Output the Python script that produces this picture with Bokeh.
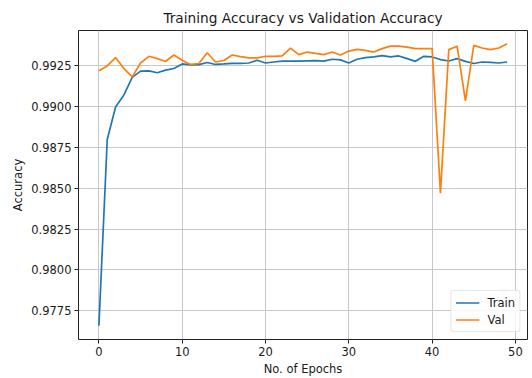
from bokeh.plotting import figure
from bokeh.models import FixedTicker, PrintfTickFormatter, Range1d, Legend, LegendItem
from bokeh.embed import file_html
from bokeh.resources import INLINE

epochs = list(range(50))
train_acc = [0.97658, 0.98799, 0.98998, 0.99072, 0.99180, 0.99218, 0.99220, 0.99208, 0.99224, 0.99234,
             0.99262, 0.99256, 0.99258, 0.99271, 0.99259, 0.99262, 0.99266, 0.99266, 0.99268, 0.99285,
             0.99268, 0.99274, 0.99279, 0.99279, 0.99279, 0.99281, 0.99283, 0.99279, 0.99291, 0.99287,
             0.99268, 0.99291, 0.99301, 0.99305, 0.99313, 0.99305, 0.99311, 0.99295, 0.99278, 0.99309,
             0.99305, 0.99289, 0.99280, 0.99295, 0.99278, 0.99265, 0.99274, 0.99272, 0.99268, 0.99274]
val_acc = [0.99220, 0.99250, 0.99301, 0.99234, 0.99183, 0.99268, 0.99309, 0.99295, 0.99277, 0.99317,
           0.99285, 0.99259, 0.99265, 0.99331, 0.99274, 0.99283, 0.99317, 0.99307, 0.99299, 0.99299,
           0.99309, 0.99309, 0.99311, 0.99359, 0.99319, 0.99335, 0.99327, 0.99319, 0.99335, 0.99317,
           0.99341, 0.99351, 0.99345, 0.99335, 0.99356, 0.99371, 0.99371, 0.99365, 0.99356, 0.99356,
           0.99356, 0.98471, 0.99350, 0.99371, 0.99036, 0.99376, 0.99360, 0.99350, 0.99360, 0.99386]
x_ticks = [0, 10, 20, 30, 40, 50]
y_ticks = [0.9775, 0.9800, 0.9825, 0.9850, 0.9875, 0.9900, 0.9925]

FONT = "DejaVu Sans"
TXT = "#1a1a1a"

p = figure(width=530, height=378, output_backend="svg", toolbar_location=None,
           x_range=Range1d(-2.45, 51.45), y_range=Range1d(0.97574, 0.99467),
           min_border_left=78, min_border_right=3, min_border_top=30, min_border_bottom=36)

p.title.text = "Training Accuracy vs Validation Accuracy"
p.title.align = "center"
p.title.text_font = FONT
p.title.text_font_size = "13.7px"
p.title.text_font_style = "normal"
p.title.text_color = TXT
p.title.standoff = 9
p.title.offset = 0

p.outline_line_color = "#222222"
p.outline_line_width = 1
p.background_fill_color = "white"
p.border_fill_color = "white"

for ax in (p.xaxis, p.yaxis):
    ax.axis_line_color = None
    ax.major_tick_line_color = "#222222"
    ax.major_tick_out = 4
    ax.major_tick_in = 0
    ax.minor_tick_line_color = None
    ax.major_label_text_font = FONT
    ax.major_label_text_font_size = "11.5px"
    ax.major_label_text_color = TXT
    ax.major_label_standoff = 3
    ax.axis_label_text_font = FONT
    ax.axis_label_text_font_size = "11.5px"
    ax.axis_label_text_font_style = "normal"
    ax.axis_label_text_color = TXT
    ax.axis_label_standoff = 3

p.xaxis.ticker = FixedTicker(ticks=x_ticks)
p.yaxis.ticker = FixedTicker(ticks=y_ticks)
p.yaxis.formatter = PrintfTickFormatter(format="%.4f")
p.xaxis.axis_label = "No. of Epochs"
p.yaxis.axis_label = "Accuracy"

p.grid.grid_line_color = "#c8c8c8"
p.grid.grid_line_width = 1

r1 = p.line(epochs, train_acc, line_color="#1f77b4", line_width=1.7)
r2 = p.line(epochs, val_acc, line_color="#ff7f0e", line_width=1.7)

legend = Legend(items=[LegendItem(label="Train", renderers=[r1]),
                       LegendItem(label="Val", renderers=[r2])],
                location="bottom_right")
legend.label_text_font = FONT
legend.label_text_font_size = "11.5px"
legend.label_text_color = TXT
legend.border_line_color = "#d0d0d0"
legend.border_line_width = 1
legend.border_radius = 3
legend.background_fill_alpha = 0.85
legend.glyph_width = 24
legend.glyph_height = 15
legend.label_height = 15
legend.spacing = 2
legend.padding = 4
legend.margin = 7
legend.label_standoff = 8
p.add_layout(legend)

open("out.html", "w").write(file_html(p, INLINE))
